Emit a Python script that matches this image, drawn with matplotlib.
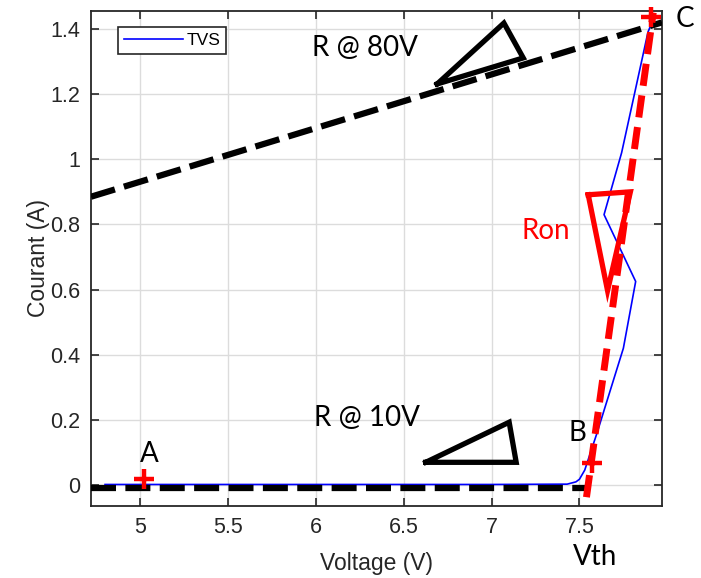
import matplotlib
matplotlib.use('Agg')
import matplotlib.pyplot as plt

# measured TVS I-V curve
v_tvs = [4.80, 5.00, 5.50, 6.00, 6.50, 7.00, 7.43, 7.48, 7.50, 7.53, 7.60, 7.75, 7.82, 7.64, 7.74, 7.89, 7.92]
i_tvs = [0.002, 0.002, 0.002, 0.002, 0.002, 0.002, 0.003, 0.010, 0.018, 0.046, 0.16, 0.42, 0.625, 0.83, 1.02, 1.39, 1.43]

# fitted lines
v_r80 = [4.72, 7.97]
i_r80 = [0.885, 1.42]
v_r10 = [4.72, 7.56]
i_r10 = [-0.01, -0.01]
v_ron = [7.54, 7.92]
i_ron = [-0.037, 1.45]

# points A, B, C
pts_v = [5.02, 7.57, 7.91]
pts_i = [0.018, 0.068, 1.435]

# slope triangles
tri80_v = [6.69, 7.07, 7.18, 6.69]
tri80_i = [1.231, 1.418, 1.311, 1.231]
tri10_v = [6.625, 7.10, 7.14, 6.625]
tri10_i = [0.07, 0.193, 0.07, 0.07]
tri_ron_v = [7.55, 7.79, 7.66, 7.55]
tri_ron_i = [0.891, 0.90, 0.597, 0.891]

xticks = [5, 5.5, 6, 6.5, 7, 7.5]
yticks = [0, 0.2, 0.4, 0.6, 0.8, 1, 1.2, 1.4]

plt.rcParams['font.family'] = ['Liberation Sans', 'DejaVu Sans']
fig = plt.figure(figsize=(7.01, 5.78), dpi=100)
ax = fig.add_axes([0.1298, 0.1246, 0.8146, 0.8564])

dk = '#262626'
ann = ['Lato', 'DejaVu Sans']
fs = 20

ax.plot(v_tvs, i_tvs, color='#0000ff', lw=1.2, label='TVS', zorder=3)
ax.plot(v_r80, i_r80, color='k', lw=4.5, dashes=(4.0, 1.5), zorder=4)
ax.plot(v_r10, i_r10, color='k', lw=4.5, dashes=(4.0, 1.5), zorder=4)
ax.plot(v_ron, i_ron, color='#ff0000', lw=5.0, dashes=(3.2, 1.4), zorder=5)
ax.plot(tri80_v, tri80_i, color='k', lw=3.8, solid_joinstyle='miter', zorder=4)
ax.plot(tri10_v, tri10_i, color='k', lw=3.8, solid_joinstyle='miter', zorder=4)
ax.plot(tri_ron_v, tri_ron_i, color='#ff0000', lw=3.8, solid_joinstyle='miter', zorder=6)
ax.plot(pts_v, pts_i, ls='none', marker='+', ms=15, mew=3.2, color='#ff0000', zorder=7, clip_on=False)

ax.text(5.05, 0.095, 'A', fontsize=fs, family=ann, ha='center', va='center')
ax.text(7.49, 0.16, 'B', fontsize=fs, family=ann, ha='center', va='center')
ax.text(8.10, 1.43, 'C', fontsize=fs, family=ann, ha='center', va='center', clip_on=False)
ax.text(6.28, 1.34, 'R @ 80V', fontsize=fs, family=ann, ha='center', va='center')
ax.text(6.29, 0.205, 'R @ 10V', fontsize=fs, family=ann, ha='center', va='center')
ax.text(7.31, 0.78, 'Ron', fontsize=fs, family=ann, color='#ff0000', ha='center', va='center')
ax.text(7.59, -0.22, 'Vth', fontsize=fs, family=ann, ha='center', va='center', clip_on=False)

ax.set_xlim(4.72, 7.97)
ax.set_ylim(-0.064, 1.455)
ax.set_xticks(xticks)
ax.set_xticklabels(['5', '5.5', '6', '6.5', '7', '7.5'])
ax.set_yticks(yticks)
ax.set_yticklabels(['0', '0.2', '0.4', '0.6', '0.8', '1', '1.2', '1.4'])
ax.tick_params(direction='in', top=True, right=True, length=6, width=1.2,
               colors=dk, labelsize=15.5, pad=8)
ax.grid(True, color='#dcdcdc', lw=1.0)
ax.set_axisbelow(True)
for s in ax.spines.values():
  s.set_color(dk)
  s.set_linewidth(1.3)

ax.set_xlabel('Voltage (V)', fontsize=16.5, color=dk, labelpad=10)
ax.set_ylabel('Courant (A)', fontsize=16.5, color=dk, labelpad=0)

leg = ax.legend(loc='upper left', bbox_to_anchor=(0.047, 0.968), fontsize=12.5,
                handlelength=3.4, handletextpad=0.2, borderpad=0.35,
                fancybox=False, framealpha=1, borderaxespad=0)
leg.get_frame().set_edgecolor(dk)
leg.get_frame().set_linewidth(1.2)

fig.savefig('out.png', dpi=100)
